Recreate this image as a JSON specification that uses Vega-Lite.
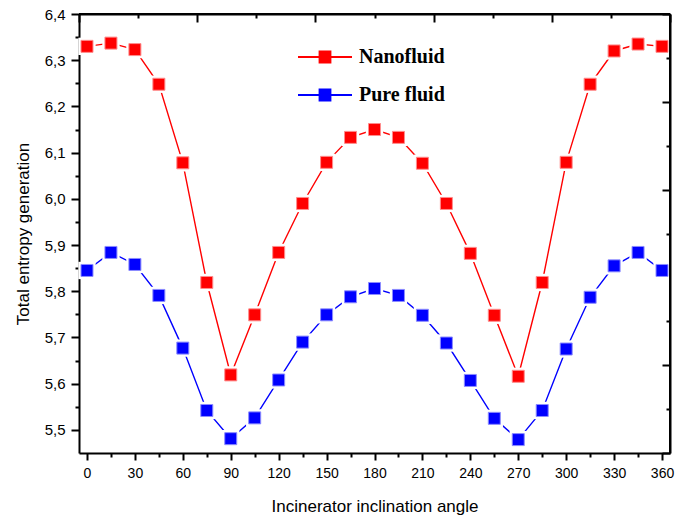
{
  "$schema": "https://vega.github.io/schema/vega-lite/v6.json",
  "autosize": {"type": "none"},
  "padding": {"left": 79, "top": 14, "right": 24, "bottom": 67},
  "width": 591,
  "height": 439,
  "background": "white",
  "config": {
    "view": {"stroke": null},
    "font": "Liberation Sans",
    "axis": {
      "domain": true,
      "domainColor": "black",
      "domainWidth": 2,
      "ticks": true,
      "tickColor": "black",
      "tickWidth": 2,
      "grid": false,
      "zindex": 1,
      "labelFont": "Liberation Sans",
      "labelColor": "black",
      "titleFont": "Liberation Sans",
      "titleFontWeight": "normal",
      "titleColor": "black"
    }
  },
  "data": {
    "values": [
      {"angle": 0, "value": 6.330, "series": "Nanofluid"},
      {"angle": 15, "value": 6.337, "series": "Nanofluid"},
      {"angle": 30, "value": 6.323, "series": "Nanofluid"},
      {"angle": 45, "value": 6.248, "series": "Nanofluid"},
      {"angle": 60, "value": 6.078, "series": "Nanofluid"},
      {"angle": 75, "value": 5.819, "series": "Nanofluid"},
      {"angle": 90, "value": 5.619, "series": "Nanofluid"},
      {"angle": 105, "value": 5.749, "series": "Nanofluid"},
      {"angle": 120, "value": 5.884, "series": "Nanofluid"},
      {"angle": 135, "value": 5.990, "series": "Nanofluid"},
      {"angle": 150, "value": 6.079, "series": "Nanofluid"},
      {"angle": 165, "value": 6.133, "series": "Nanofluid"},
      {"angle": 180, "value": 6.150, "series": "Nanofluid"},
      {"angle": 195, "value": 6.133, "series": "Nanofluid"},
      {"angle": 210, "value": 6.077, "series": "Nanofluid"},
      {"angle": 225, "value": 5.990, "series": "Nanofluid"},
      {"angle": 240, "value": 5.882, "series": "Nanofluid"},
      {"angle": 255, "value": 5.748, "series": "Nanofluid"},
      {"angle": 270, "value": 5.616, "series": "Nanofluid"},
      {"angle": 285, "value": 5.819, "series": "Nanofluid"},
      {"angle": 300, "value": 6.079, "series": "Nanofluid"},
      {"angle": 315, "value": 6.248, "series": "Nanofluid"},
      {"angle": 330, "value": 6.320, "series": "Nanofluid"},
      {"angle": 345, "value": 6.335, "series": "Nanofluid"},
      {"angle": 360, "value": 6.330, "series": "Nanofluid"},
      {"angle": 0, "value": 5.845, "series": "Pure fluid"},
      {"angle": 15, "value": 5.884, "series": "Pure fluid"},
      {"angle": 30, "value": 5.858, "series": "Pure fluid"},
      {"angle": 45, "value": 5.791, "series": "Pure fluid"},
      {"angle": 60, "value": 5.677, "series": "Pure fluid"},
      {"angle": 75, "value": 5.542, "series": "Pure fluid"},
      {"angle": 90, "value": 5.481, "series": "Pure fluid"},
      {"angle": 105, "value": 5.526, "series": "Pure fluid"},
      {"angle": 120, "value": 5.608, "series": "Pure fluid"},
      {"angle": 135, "value": 5.690, "series": "Pure fluid"},
      {"angle": 150, "value": 5.749, "series": "Pure fluid"},
      {"angle": 165, "value": 5.788, "series": "Pure fluid"},
      {"angle": 180, "value": 5.806, "series": "Pure fluid"},
      {"angle": 195, "value": 5.791, "series": "Pure fluid"},
      {"angle": 210, "value": 5.748, "series": "Pure fluid"},
      {"angle": 225, "value": 5.688, "series": "Pure fluid"},
      {"angle": 240, "value": 5.607, "series": "Pure fluid"},
      {"angle": 255, "value": 5.525, "series": "Pure fluid"},
      {"angle": 270, "value": 5.479, "series": "Pure fluid"},
      {"angle": 285, "value": 5.542, "series": "Pure fluid"},
      {"angle": 300, "value": 5.675, "series": "Pure fluid"},
      {"angle": 315, "value": 5.787, "series": "Pure fluid"},
      {"angle": 330, "value": 5.855, "series": "Pure fluid"},
      {"angle": 345, "value": 5.884, "series": "Pure fluid"},
      {"angle": 360, "value": 5.845, "series": "Pure fluid"}
    ]
  },
  "resolve": {"axis": {"x": "independent", "y": "independent"}},
  "layer": [
    {
      "mark": {"type": "line", "strokeWidth": 1.4},
      "encoding": {
        "x": {
          "field": "angle", "type": "quantitative",
          "scale": {"domain": [-5, 365], "nice": false, "zero": false},
          "axis": {
            "orient": "bottom",
            "title": "Incinerator inclination angle",
            "titleFontSize": 17,
            "titlePadding": 18,
            "values": [0, 15, 30, 45, 60, 75, 90, 105, 120, 135, 150, 165, 180, 195, 210, 225, 240, 255, 270, 285, 300, 315, 330, 345, 360],
            "labelExpr": "datum.value % 30 === 0 ? datum.label : ''",
            "labelFontSize": 14,
            "labelPadding": 6,
            "tickSize": {"condition": {"test": "datum.value % 30 === 0", "value": 7}, "value": 4}
          }
        },
        "y": {
          "field": "value", "type": "quantitative",
          "scale": {"domain": [5.45, 6.4], "nice": false, "zero": false},
          "axis": {
            "orient": "left",
            "title": "Total entropy generation",
            "titleFontSize": 17,
            "titlePadding": 12,
            "values": [5.5, 5.55, 5.6, 5.65, 5.7, 5.75, 5.8, 5.85, 5.9, 5.95, 6.0, 6.05, 6.1, 6.15, 6.2, 6.25, 6.3, 6.35, 6.4],
            "labelExpr": "abs(datum.value * 10 - round(datum.value * 10)) < 0.001 ? replace(format(datum.value, '.1f'), '.', ',') : ''",
            "labelFontSize": 15,
            "labelPadding": 6,
            "tickSize": {"condition": {"test": "abs(datum.value * 10 - round(datum.value * 10)) < 0.001", "value": 8}, "value": 4}
          }
        },
        "color": {
          "field": "series", "type": "nominal",
          "scale": {"domain": ["Nanofluid", "Pure fluid"], "range": ["#ff0000", "#0000ff"]},
          "legend": {
            "orient": "none",
            "legendX": 218,
            "legendY": 15,
            "title": null,
            "padding": 0,
            "rowPadding": -13,
            "symbolType": "M-1,0H1M-0.2,-0.2H0.2V0.2H-0.2Z",
            "symbolSize": 2916,
            "symbolStrokeWidth": 2,
            "labelFont": "Liberation Serif",
            "labelFontWeight": "bold",
            "labelFontSize": 20,
            "labelColor": "black",
            "labelOffset": 6,
            "encode": {
              "symbols": {
                "update": {
                  "fill": {"scale": "color", "field": "value"},
                  "stroke": {"scale": "color", "field": "value"}
                }
              }
            }
          }
        }
      }
    },
    {
      "mark": {"type": "point", "shape": "square", "filled": true, "size": 300, "color": "white", "opacity": 1},
      "encoding": {
        "x": {
          "field": "angle", "type": "quantitative",
          "axis": {
            "orient": "top",
            "title": null,
            "labels": false,
            "values": [-5, 32, 69, 106, 143, 180, 217, 254, 291, 328, 365],
            "tickSize": {"condition": {"test": "indexof([-5, 69, 143, 217, 291, 365], datum.value) >= 0", "value": -8}, "value": -4}
          }
        },
        "y": {
          "field": "value", "type": "quantitative",
          "axis": {
            "orient": "right",
            "title": null,
            "labels": false,
            "values": [6.4, 6.305, 6.21, 6.115, 6.02, 5.925, 5.83, 5.735, 5.64, 5.545, 5.45],
            "tickSize": {"condition": {"test": "indexof([6.4, 6.21, 6.02, 5.83, 5.64, 5.45], datum.value) >= 0", "value": -8}, "value": -4}
          }
        },
        "detail": {"field": "series", "type": "nominal"}
      }
    },
    {
      "mark": {"type": "point", "shape": "square", "filled": true, "size": 144, "opacity": 1, "strokeWidth": 1},
      "encoding": {
        "x": {"field": "angle", "type": "quantitative", "axis": null},
        "y": {"field": "value", "type": "quantitative", "axis": null},
        "fill": {
          "field": "series", "type": "nominal",
          "scale": {"domain": ["Nanofluid", "Pure fluid"], "range": ["#ff0000", "#0000ff"]},
          "legend": null
        },
        "stroke": {
          "field": "series", "type": "nominal",
          "scale": {"domain": ["Nanofluid", "Pure fluid"], "range": ["#ff8c8c", "#8c8cff"]},
          "legend": null
        }
      }
    },
    {
      "mark": {"type": "rule", "color": "black", "strokeWidth": 2},
      "encoding": {
        "x": {"datum": 365, "type": "quantitative", "axis": null}
      }
    },
    {
      "mark": {"type": "rule", "color": "black", "strokeWidth": 2},
      "encoding": {
        "y": {"datum": 6.4, "type": "quantitative", "axis": null}
      }
    }
  ]
}
